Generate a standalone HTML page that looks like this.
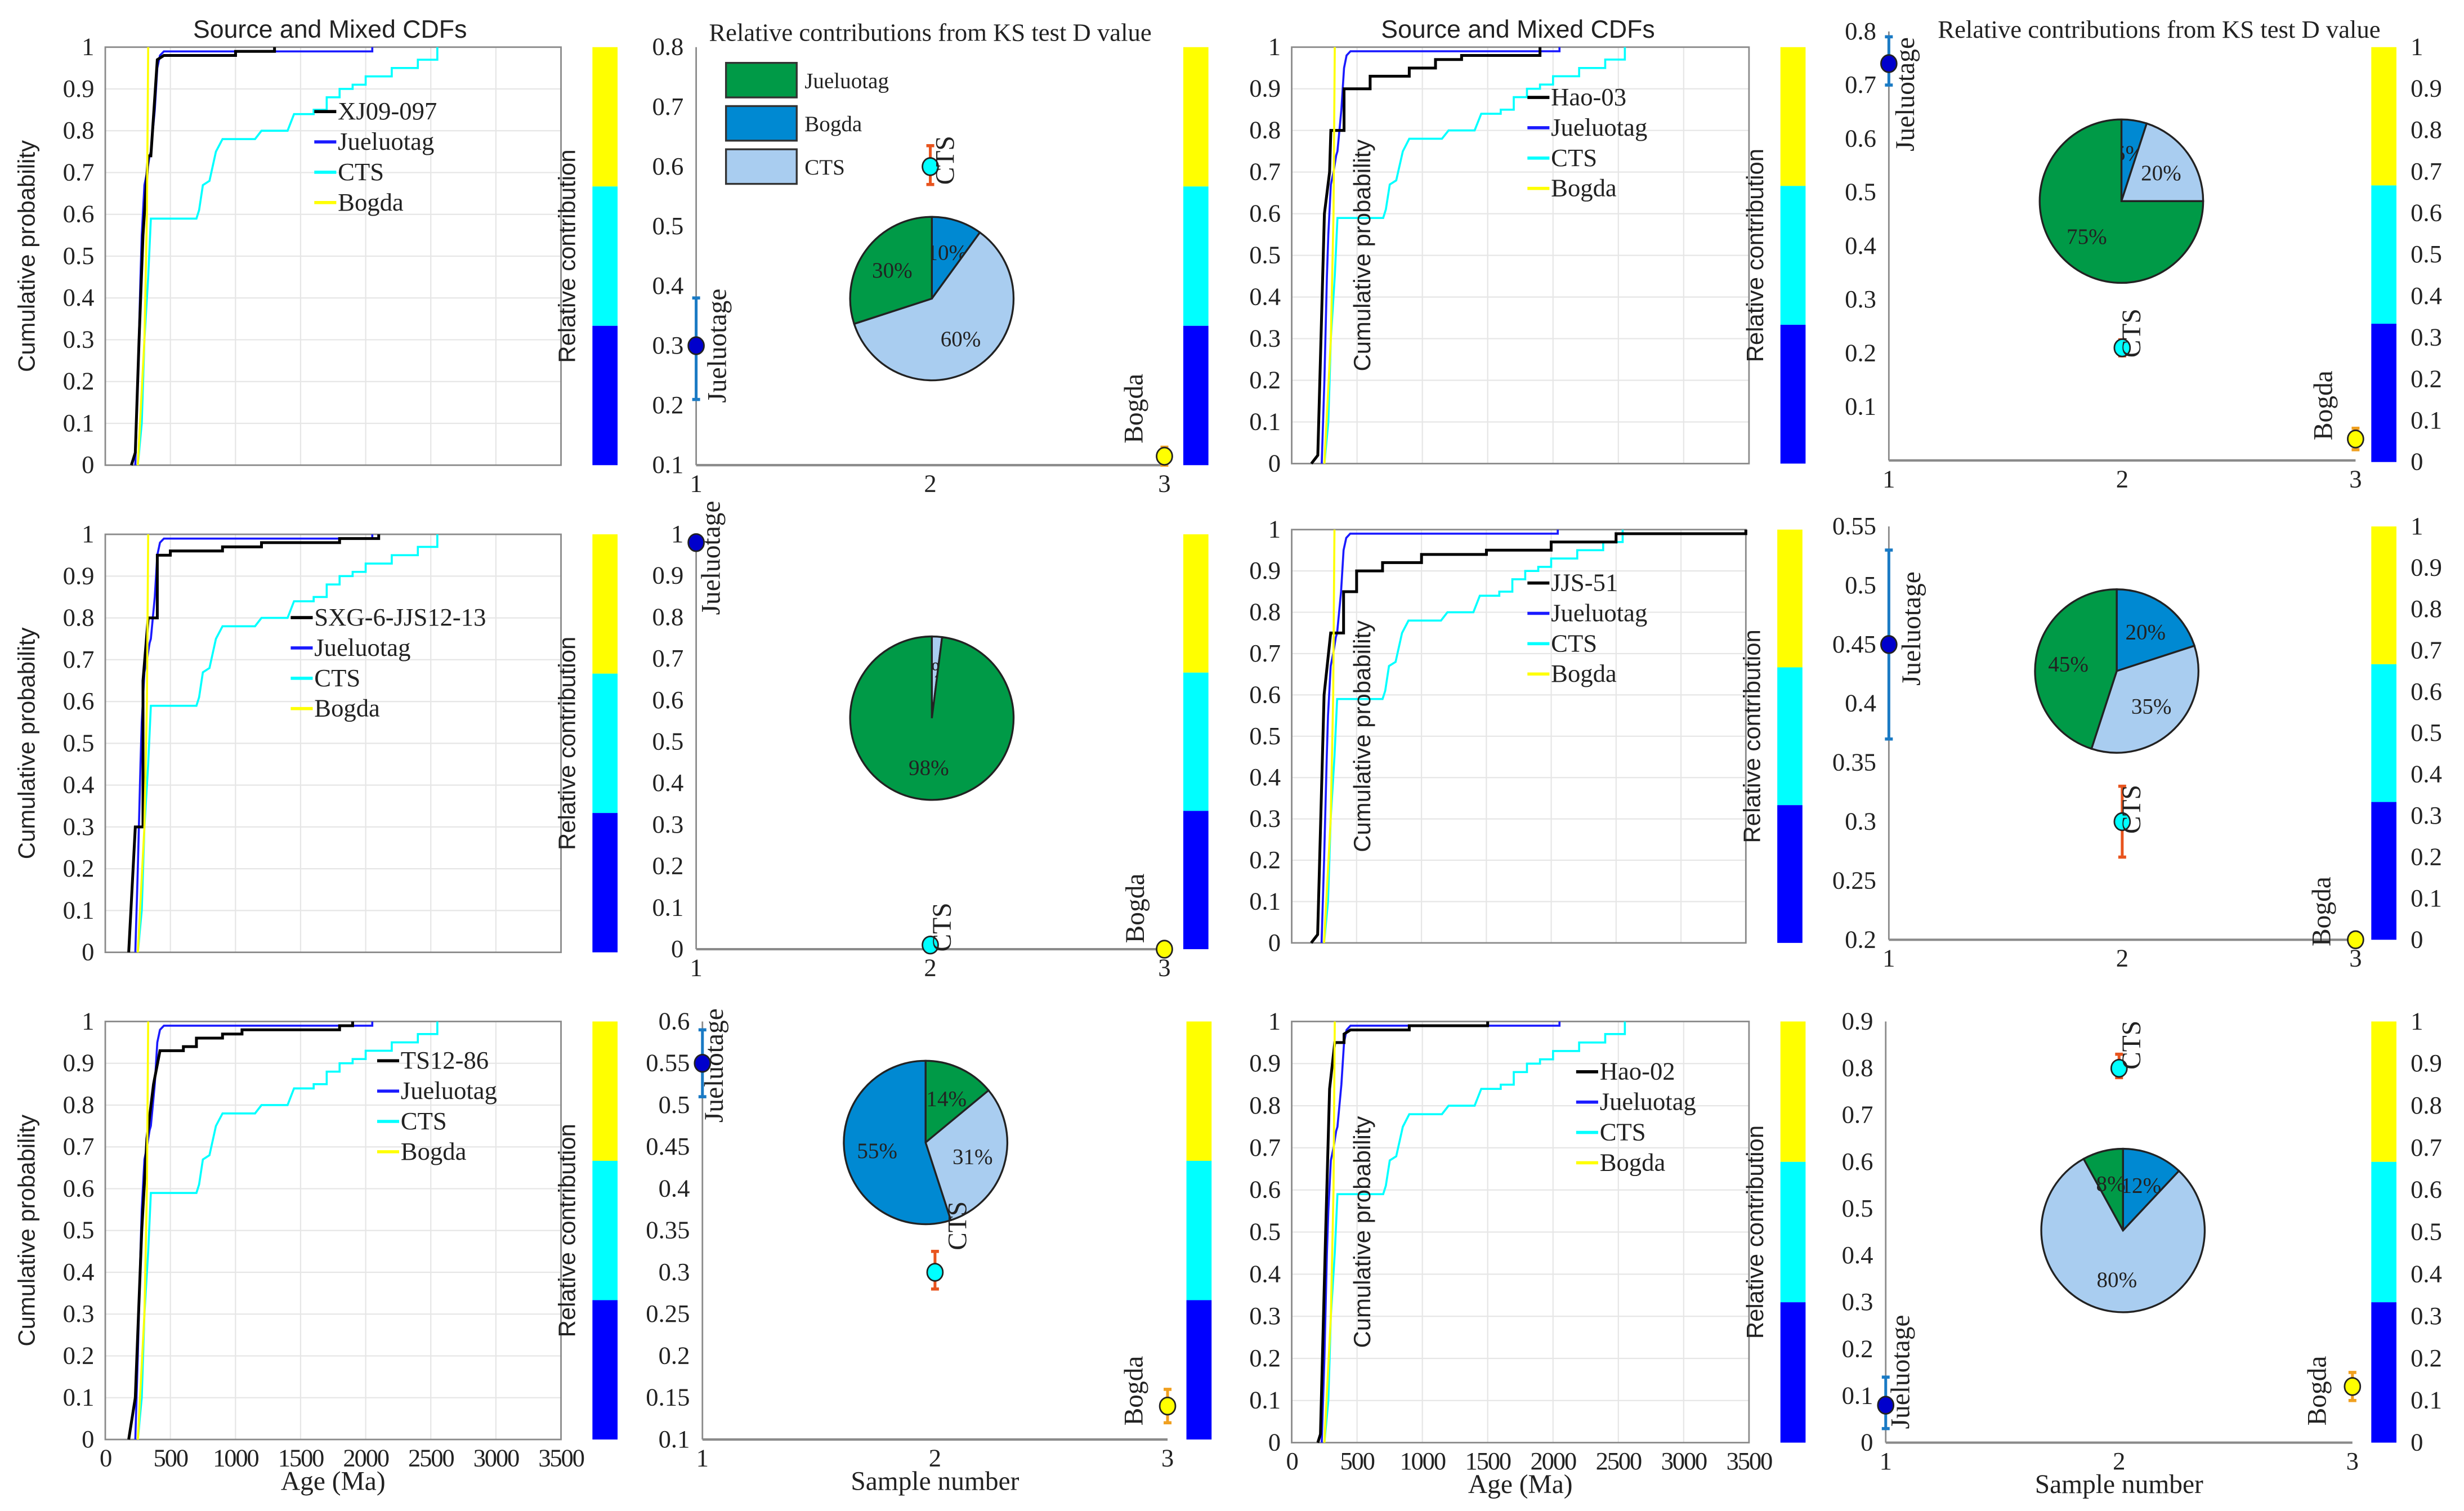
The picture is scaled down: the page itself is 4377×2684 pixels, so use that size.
<!DOCTYPE html>
<html><head><meta charset="utf-8">
<style>
html,body{margin:0;padding:0;background:#fff;}
svg{display:block;}
text{font-family:"Liberation Serif",serif;fill:#222;}
.sans{font-family:"Liberation Sans",sans-serif;}
</style></head>
<body>
<svg id="fig" xmlns="http://www.w3.org/2000/svg" width="4377" height="2684" viewBox="0 0 1568 961.5" preserveAspectRatio="none"></svg>
<script>
// ===== DATA =====
const ageTicks = [0,500,1000,1500,2000,2500,3000,3500];
const probTicks = [0,0.1,0.2,0.3,0.4,0.5,0.6,0.7,0.8,0.9,1];
const sourceNames = ["Jueluotag","CTS","Bogda"];
const jueluotagAges = [230,250,270,280,300,320,340,350,380,400,420,450,600,2050];
const jueluotagProbs = [0,0.2,0.45,0.55,0.67,0.7,0.74,0.75,0.85,0.95,0.98,0.99,0.99,1];
const ctsAges = [250,280,300,330,350,700,720,750,800,850,900,1150,1200,1400,1450,1600,1700,1800,1900,2000,2200,2400,2550];
const ctsProbs = [0,0.1,0.3,0.45,0.59,0.59,0.61,0.67,0.68,0.75,0.78,0.78,0.8,0.8,0.84,0.85,0.88,0.9,0.91,0.93,0.95,0.97,1];
const bogdaAges = [250,300,320,330];
const bogdaProbs = [0,0.3,0.6,1];
const sampleNames = ["XJ09-097","SXG-6-JJS12-13","TS12-86","Hao-03","JJS-51","Hao-02"];
const sampleAges = [
 [200,230,260,290,330,350,380,400,450,1000,1300],
 [180,230,290,330,400,500,900,1200,1800,2100],
 [180,230,280,320,370,420,600,700,900,1050,1800,1900],
 [150,200,250,290,300,400,600,900,1100,1300,1900],
 [150,200,250,300,400,500,700,1000,1500,2000,2500,3500],
 [200,220,260,290,330,400,450,900,1500]
];
const sampleProbs = [
 [0,0.03,0.3,0.55,0.74,0.74,0.88,0.97,0.98,0.99,1],
 [0,0.3,0.65,0.8,0.95,0.96,0.97,0.98,0.99,1],
 [0,0.1,0.5,0.72,0.85,0.93,0.94,0.96,0.97,0.98,0.99,1],
 [0,0.02,0.6,0.7,0.8,0.9,0.93,0.95,0.97,0.98,1],
 [0,0.02,0.6,0.75,0.85,0.9,0.92,0.94,0.95,0.97,0.99,1],
 [0,0.02,0.5,0.84,0.95,0.97,0.98,0.99,1]
];
// contribution panels (order: Jueluotag, CTS, Bogda)
const contribValues = [[0.30,0.60,0.115],[0.98,0.01,0.0],[0.55,0.30,0.14],[0.74,0.21,0.04],[0.45,0.30,0.20],[0.08,0.80,0.12]];
const contribLow = [[0.21,0.57,0.10],[0.975,0.005,0.0],[0.51,0.28,0.12],[0.70,0.195,0.02],[0.37,0.27,0.195],[0.03,0.78,0.09]];
const contribHigh = [[0.38,0.635,0.13],[0.985,0.015,0.005],[0.59,0.325,0.16],[0.79,0.225,0.06],[0.53,0.33,0.205],[0.14,0.83,0.15]];
const yMins = [0.1,0,0.1,0,0.2,0];
const yMaxs = [0.8,1,0.6,0.8,0.55,0.9];
const yTickSteps = [0.1,0.1,0.05,0.1,0.05,0.1];
const yTickStarts = [0.1,0,0.1,0.1,0.2,0];
// pies: clockwise from top
const pieSlices = [[10,60,30],[2,98],[14,31,55],[5,20,75],[20,35,45],[12,80,8]];
const pieSliceKinds = [["bogda","cts","jue"],["cts","jue"],["jue","cts","bogda"],["bogda","cts","jue"],["bogda","cts","jue"],["bogda","cts","jue"]];
const sampleNumbers = [1,2,3];
const colorbarTicks = [0,0.1,0.2,0.3,0.4,0.5,0.6,0.7,0.8,0.9,1];

// ===== LAYOUT =====
const svg = document.getElementById('fig');
const NS = "http://www.w3.org/2000/svg";
function mk(tag, attrs, parent){const e=document.createElementNS(NS,tag);for(const k in attrs)e.setAttribute(k,attrs[k]);(parent||svg).appendChild(e);return e;}
function txt(s, attrs, parent){const e=mk('text',attrs,parent);e.textContent=s;return e;}
const pieCols = {jue:"#009a47",bogda:"#0089d2",cts:"#a9cdf0"};

const cdfPanels = [
 {x0:67,x1:357,y0:30,y1:296,cb:377,leg:[200,76],xlabels:false,ylabX:22},
 {x0:67,x1:357,y0:340,y1:606,cb:377,leg:[185,398],xlabels:false,ylabX:22},
 {x0:67,x1:357,y0:650,y1:916,cb:377,leg:[240,680],xlabels:true,ylabX:22},
 {x0:822,x1:1113,y0:30,y1:295,cb:1133,leg:[972,67],xlabels:false,ylabX:872},
 {x0:822,x1:1111,y0:337,y1:600,cb:1131,leg:[972,376],xlabels:false,ylabX:872},
 {x0:822,x1:1113,y0:650,y1:918,cb:1133,leg:[1003,687],xlabels:true,ylabX:872}
];
const contribPanels = [
 {x0:443,x1:741,y0:30,y1:296,cb:753,pie:[593,190],lab:[[462,220],[607,102],[727,260]],cbLabels:false,xlabel:false},
 {x0:443,x1:741,y0:340,y1:604,cb:753,pie:[593,457],lab:[[458,355],[605,590],[728,578]],cbLabels:false,xlabel:false},
 {x0:447,x1:743,y0:650,y1:916,cb:755,pie:[589,727],lab:[[460,678],[615,780],[727,885]],cbLabels:false,xlabel:true},
 {x0:1202,x1:1499,y0:20,y1:293,cb:1509,cby:[30,294],pie:[1350,128],lab:[[1218,60],[1362,212],[1484,258]],cbLabels:true,xlabel:false},
 {x0:1202,x1:1499,y0:335,y1:598,cb:1509,cby:[335,598],pie:[1347,427],lab:[[1222,400],[1362,515],[1483,580]],cbLabels:true,xlabel:false},
 {x0:1200,x1:1497,y0:650,y1:918,cb:1509,cby:[650,918],pie:[1351,783],lab:[[1215,873],[1362,665],[1480,885]],cbLabels:true,xlabel:true}
];

function colorbar(x, yt, yb, name){
  const g = mk('g',{});
  
  
  const h=(yb-yt)/3;
  mk('rect',{x:x,y:yt,width:16,height:h,fill:'#ffff00'},g);
  mk('rect',{x:x,y:yt+h,width:16,height:h,fill:'#00ffff'},g);
  mk('rect',{x:x,y:yt+2*h,width:16,height:h,fill:'#0000ff'},g);
  return g;
}

// ===== CDF PANELS =====
cdfPanels.forEach((p,i)=>{
  const g = mk('g',{});
  
  
  const sx = a => p.x0 + (a/3500)*(p.x1-p.x0);
  const sy = v => p.y1 - v*(p.y1-p.y0);
  mk('rect',{x:p.x0,y:p.y0,width:p.x1-p.x0,height:p.y1-p.y0,fill:'#fff',stroke:'none'},g);
  ageTicks.forEach(a=>{ if(a>0&&a<3500) mk('line',{x1:sx(a),x2:sx(a),y1:p.y0,y2:p.y1,stroke:'#e6e6e6','stroke-width':0.8},g);});
  probTicks.forEach(v=>{ mk('line',{x1:p.x0,x2:p.x1,y1:sy(v),y2:sy(v),stroke:'#e6e6e6','stroke-width':0.8},g);
    txt(String(v),{x:p.x0-7,y:sy(v)+5,'text-anchor':'end','font-size':16},g);});
  mk('rect',{x:p.x0,y:p.y0,width:p.x1-p.x0,height:p.y1-p.y0,fill:'none',stroke:'#8a8a8a','stroke-width':1},g);
  if(p.xlabels){
    ageTicks.forEach(a=>txt(String(a),{x:sx(a),y:p.y1+17,'text-anchor':'middle','font-size':16,'letter-spacing':-0.8},g));
    const xl=txt('Age (Ma)',{x:(p.x0+p.x1)/2,y:p.y1+32,'text-anchor':'middle','font-size':17},g);
    
  }
  const series = [
    {ages:ctsAges,probs:ctsProbs,col:'#00ffff',n:'cts-cdf'},
    {ages:jueluotagAges,probs:jueluotagProbs,col:'#1a1aff',n:'jueluotag-cdf'},
    {ages:sampleAges[i],probs:sampleProbs[i],col:'#000',n:'sample-cdf'},
    {ages:bogdaAges,probs:bogdaProbs,col:'#ffff00',n:'bogda-cdf'}
  ];
  series.forEach(s=>{
    let pts = sx(s.ages[0]).toFixed(1)+','+sy(s.probs[0]).toFixed(1);
    for(let k=1;k<s.ages.length;k++){
      const steep = s.ages[k]-s.ages[k-1] < 60;
      if(!steep) pts += ' '+sx(s.ages[k]).toFixed(1)+','+sy(s.probs[k-1]).toFixed(1);
      pts += ' '+sx(s.ages[k]).toFixed(1)+','+sy(s.probs[k]).toFixed(1);
    }
    const pl = mk('polyline',{points:pts,fill:'none',stroke:s.col,'stroke-width':s.col==='#000'?1.8:1.3},g);
    
    
  });
  const lg = mk('g',{},g);
  
  
  const names=[sampleNames[i],'Jueluotag','CTS','Bogda'];
  const cols=['#000','#1a1aff','#00ffff','#ffff00'];
  names.forEach((n,k)=>{
    const y=p.leg[1]+k*19.3;
    mk('line',{x1:p.leg[0],x2:p.leg[0]+14,y1:y-5,y2:y-5,stroke:cols[k],'stroke-width':2},lg);
    const t=txt(n,{x:p.leg[0]+15,y:y,'font-size':16},lg);
    
  });
  const yl=txt('Cumulative probability',{x:p.ylabX,y:(p.y0+p.y1)/2,'text-anchor':'middle','font-size':15,class:'sans',fill:'#333',transform:`rotate(-90 ${p.ylabX} ${(p.y0+p.y1)/2})`},g);
  
  colorbar(p.cb,p.y0,p.y1,'colorbar');
  const rx=p.cb-11, ry=(p.y0+p.y1)/2;
  const rl=txt('Relative contribution',{x:rx,y:ry,'text-anchor':'middle','font-size':15,class:'sans',fill:'#333',transform:`rotate(-90 ${rx} ${ry})`},g);
  
});
const t1=txt('Source and Mixed CDFs',{x:210,y:24,'text-anchor':'middle','font-size':16,class:'sans'});

const t2=txt('Source and Mixed CDFs',{x:966,y:24,'text-anchor':'middle','font-size':16,class:'sans'});

const t3=txt('Relative contributions from KS test D value',{x:592,y:26,'text-anchor':'middle','font-size':16});

const t4=txt('Relative contributions from KS test D value',{x:1374,y:24,'text-anchor':'middle','font-size':16});


// ===== CONTRIBUTION PANELS =====
contribPanels.forEach((p,i)=>{
  const g = mk('g',{});
  
  
  const sx = n => p.x0 + (n-1)/2*(p.x1-p.x0);
  const sy = v => p.y1 - (v-yMins[i])/(yMaxs[i]-yMins[i])*(p.y1-p.y0);
  mk('line',{x1:p.x0,x2:p.x0,y1:p.y0,y2:p.y1,stroke:'#8a8a8a','stroke-width':1},g);
  mk('line',{x1:p.x0,x2:p.x1,y1:p.y1,y2:p.y1,stroke:'#8a8a8a','stroke-width':1.5},g);
  for(let v=yTickStarts[i]; v<=yMaxs[i]+1e-9; v+=yTickSteps[i]){
    const vv=Math.round(v*100)/100;
    txt(String(vv),{x:p.x0-8,y:sy(vv)+5,'text-anchor':'end','font-size':16},g);
  }
  sampleNumbers.forEach(n=>txt(String(n),{x:sx(n),y:p.y1+17,'text-anchor':'middle','font-size':16},g));
  if(p.xlabel){
    const xl=txt('Sample number',{x:(p.x0+p.x1)/2,y:p.y1+32,'text-anchor':'middle','font-size':17},g);
    
  }
  const pg=mk('g',{},g);
  
  
  const [cx,cy]=p.pie; const r=52;
  let acc=0;
  pieSlices[i].forEach((pct,k)=>{
    const a0=acc/100*2*Math.PI, a1=(acc+pct)/100*2*Math.PI; acc+=pct;
    const x0=cx+r*Math.sin(a0), y0=cy-r*Math.cos(a0), x1=cx+r*Math.sin(a1), y1=cy-r*Math.cos(a1);
    const large=(a1-a0)>Math.PI?1:0;
    const path=mk('path',{d:`M${cx},${cy} L${x0.toFixed(2)},${y0.toFixed(2)} A${r},${r} 0 ${large} 1 ${x1.toFixed(2)},${y1.toFixed(2)} Z`,fill:pieCols[pieSliceKinds[i][k]],stroke:'#222','stroke-width':1.2},pg);
    
    
    const am=(a0+a1)/2;
    txt(pct+'%',{x:cx+0.6*r*Math.sin(am),y:cy-0.6*r*Math.cos(am)+5,'text-anchor':'middle','font-size':14,fill:'#333'},pg);
  });
  const ptCols=['#0000cc','#00ffff','#ffff00'];
  const ebCols=['#1a7ac4','#e8541e','#f0a020'];
  const labs=['Jueluotage','CTS','Bogda'];
  sampleNumbers.forEach((n,k)=>{
    const pgp=mk('g',{},g);
    
    
    const X=sx(n), lo=sy(contribLow[i][k]), hi=sy(contribHigh[i][k]);
    mk('line',{x1:X,x2:X,y1:lo,y2:hi,stroke:ebCols[k],'stroke-width':1.8},pgp);
    mk('line',{x1:X-2.5,x2:X+2.5,y1:lo,y2:lo,stroke:ebCols[k],'stroke-width':2},pgp);
    mk('line',{x1:X-2.5,x2:X+2.5,y1:hi,y2:hi,stroke:ebCols[k],'stroke-width':2},pgp);
    mk('ellipse',{cx:X,cy:sy(contribValues[i][k]),rx:5,ry:5.5,fill:ptCols[k],stroke:'#222','stroke-width':1},pgp);
    const [lx,ly]=p.lab[k];
    txt(labs[k],{x:lx,y:ly,'text-anchor':'middle','font-size':17,transform:`rotate(-90 ${lx} ${ly})`},pgp);
  });
  const cby=p.cby||[p.y0,p.y1];
  colorbar(p.cb,cby[0],cby[1],'colorbar');
  if(p.cbLabels){
    colorbarTicks.forEach(v=>txt(String(v),{x:p.cb+25,y:cby[1]-v*(cby[1]-cby[0])+5,'font-size':16},g));
  }
});
const L=mk('g',{});


[['Jueluotag','jue'],['Bogda','bogda'],['CTS','cts']].forEach((e,k)=>{
  const y=40+k*27.5;
  mk('rect',{x:462,y:y,width:45,height:22,fill:pieCols[e[1]],stroke:'#333','stroke-width':1.2},L);
  const t=txt(e[0],{x:512,y:y+16,'font-size':14},L);
  
});
</script>
</body></html>
